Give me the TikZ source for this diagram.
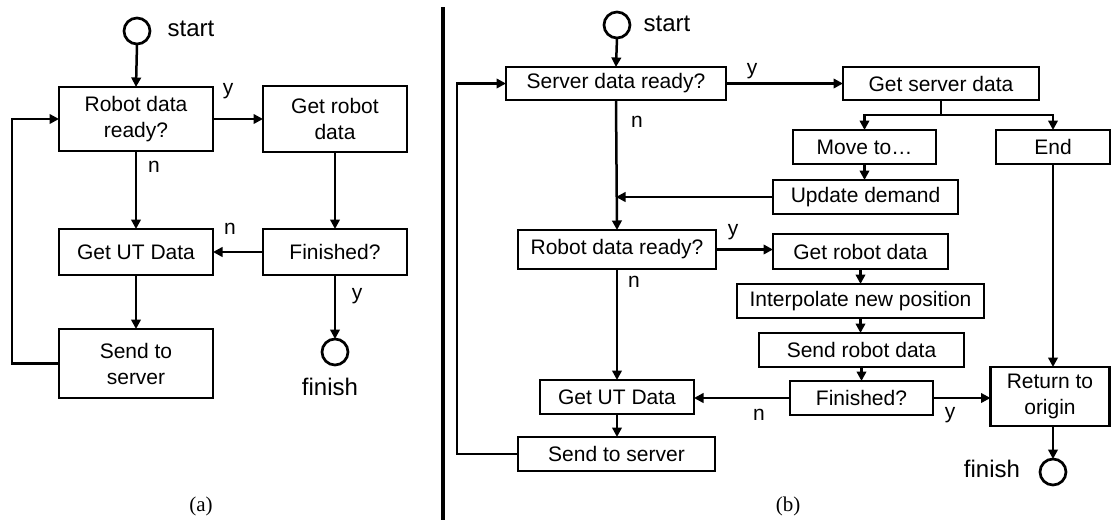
\documentclass[tikz,border=0pt]{standalone}
\usepackage{fontspec}
\setmainfont{Liberation Sans}
\newfontfamily\capfont{Liberation Serif}
\usetikzlibrary{arrows.meta}

\begin{document}
\begin{tikzpicture}[x=1pt,y=-1pt,
  every node/.style={inner sep=0pt, outer sep=0pt},
  box/.style={draw, line width=2.7pt, align=center,
    font=\fontsize{21}{26}\selectfont},
  term/.style={draw, circle, line width=2.7pt, minimum size=26pt},
  tag/.style={font=\fontsize{24}{28}\selectfont},
  lbl/.style={font=\fontsize{21}{24}\selectfont},
  captext/.style={font=\capfont\fontsize{21}{24}\selectfont},
  conn/.style={line width=2.5pt},
  arr/.style={conn, -{Triangle[length=9.5pt,width=9.5pt]}}]

\useasboundingbox (0,0) rectangle (1112,520);

% ---------- (a) single robot loop ----------
\node[term] (startA) at (137,31) {};
\node[tag] (startAt) at (191,29) {start};
\node[box, minimum width=154pt, minimum height=64pt] (robA) at (136,119) {Robot data\\ready?};
\node[box, minimum width=144pt, minimum height=66pt] (getA) at (335,119) {Get robot\\data};
\node[box, minimum width=154pt, minimum height=46pt] (utA) at (136,252) {Get UT Data};
\node[box, minimum width=144pt, minimum height=46pt] (finA) at (335,252) {Finished?};
\node[box, minimum width=154pt, minimum height=69pt] (sendA) at (136,363.5) {Send to\\server};
\node[term] (finishA) at (335,352) {};
\node[tag] (finishAt) at (330,387) {finish};

\draw[arr] (startA.south) -- (robA.north);
\draw[arr] (robA.east) -- (getA.west);
\node[lbl] (yA1) at (228,91) {y};
\draw[arr] (robA.south) -- (utA.north);
\node[lbl] (nA1) at (154,167) {n};
\draw[arr] (getA.south) -- (finA.north);
\draw[arr] (finA.west) -- (utA.east);
\node[lbl] (nA2) at (230,229) {n};
\draw[arr] (finA.south) -- (finishA.north);
\node[lbl] (yA2) at (357,296) {y};
\draw[arr] (utA.south) -- (sendA.north);
\draw[arr] (sendA.west) -- ++(-47,0) |- (robA.west);

\node[captext] (capA) at (201,506) {(a)};

% ---------- separator ----------
\coordinate (sepTop) at (443,7);
\coordinate (sepBot) at (443,520);
\draw[line width=3.3pt] (sepTop) -- (sepBot);

% ---------- (b) server-driven loop ----------
\node[term] (startB) at (617,25) {};
\node[tag] (startBt) at (667,24) {start};
\node[box, minimum width=220pt, minimum height=33pt] (srvB) at (616,83.5) {Server data ready?};
\node[box, minimum width=196pt, minimum height=33pt] (gsdB) at (941,83.5) {Get server data};
\node[box, minimum width=143pt, minimum height=34pt] (moveB) at (864.5,147) {Move to…};
\node[box, minimum width=114pt, minimum height=34pt] (endB) at (1053,147) {End};
\node[box, minimum width=185pt, minimum height=34pt] (updB) at (865.5,197) {Update demand};
\node[box, minimum width=198pt, minimum height=39pt] (robB) at (617,249.5) {Robot data ready?};
\node[box, minimum width=175pt, minimum height=35pt] (grdB) at (860.5,251.5) {Get robot data};
\node[box, minimum width=247pt, minimum height=34pt] (intB) at (860.5,301) {Interpolate new position};
\node[box, minimum width=205pt, minimum height=34pt] (sndB) at (861.5,350) {Send robot data};
\node[box, minimum width=143pt, minimum height=34pt] (finB) at (861.5,398) {Finished?};
\node[box, minimum width=119pt, minimum height=59pt] (retB) at (1050,396.5) {Return to\\origin};
\node[box, minimum width=154pt, minimum height=34pt] (utB) at (617,397) {Get UT Data};
\node[box, minimum width=197pt, minimum height=34pt] (sendB) at (616.5,454) {Send to server};
\node[term] (finishB) at (1053,472) {};
\node[tag] (finishBt) at (992,469) {finish};

\draw[arr] (startB.south) -- (srvB.north);
\draw[arr] (srvB.east) -- (gsdB.west);
\node[lbl] (yB1) at (752,71) {y};
\draw[conn] (gsdB.south) -- ++(0,15) coordinate (brB);
\draw[arr] (brB) -| (moveB.north);
\draw[arr] (brB) -| (endB.north);
\draw[arr] (moveB.south) -- (moveB.south |- updB.north);
\draw[arr] (updB.west) -- (updB.west -| srvB.south);
\draw[arr] (srvB.south) -- (robB.north);
\node[lbl] (nB1) at (637,122) {n};
\draw[arr] (robB.east) -- (robB.east -| grdB.west);
\node[lbl] (yB2) at (733,232) {y};
\draw[arr] (grdB.south) -- (grdB.south |- intB.north);
\draw[arr] (intB.south) -- (intB.south |- sndB.north);
\draw[arr] (sndB.south) -- (sndB.south |- finB.north);
\draw[arr] (finB.west) -- (finB.west -| utB.east);
\node[lbl] (nB2) at (759,415) {n};
\draw[arr] (finB.east) -- (finB.east -| retB.west);
\node[lbl] (yB3) at (950,415) {y};
\draw[arr] (endB.south) -- (endB.south |- retB.north);
\draw[arr] (retB.south -| finishB) -- (finishB.north);
\draw[arr] (robB.south) -- (utB.north);
\node[lbl] (nB3) at (634,282) {n};
\draw[arr] (utB.south) -- (utB.south |- sendB.north);
\draw[arr] (sendB.west) -- ++(-61,0) |- (srvB.west);

\node[captext] (capB) at (788,506) {(b)};
\end{tikzpicture}
\end{document}
